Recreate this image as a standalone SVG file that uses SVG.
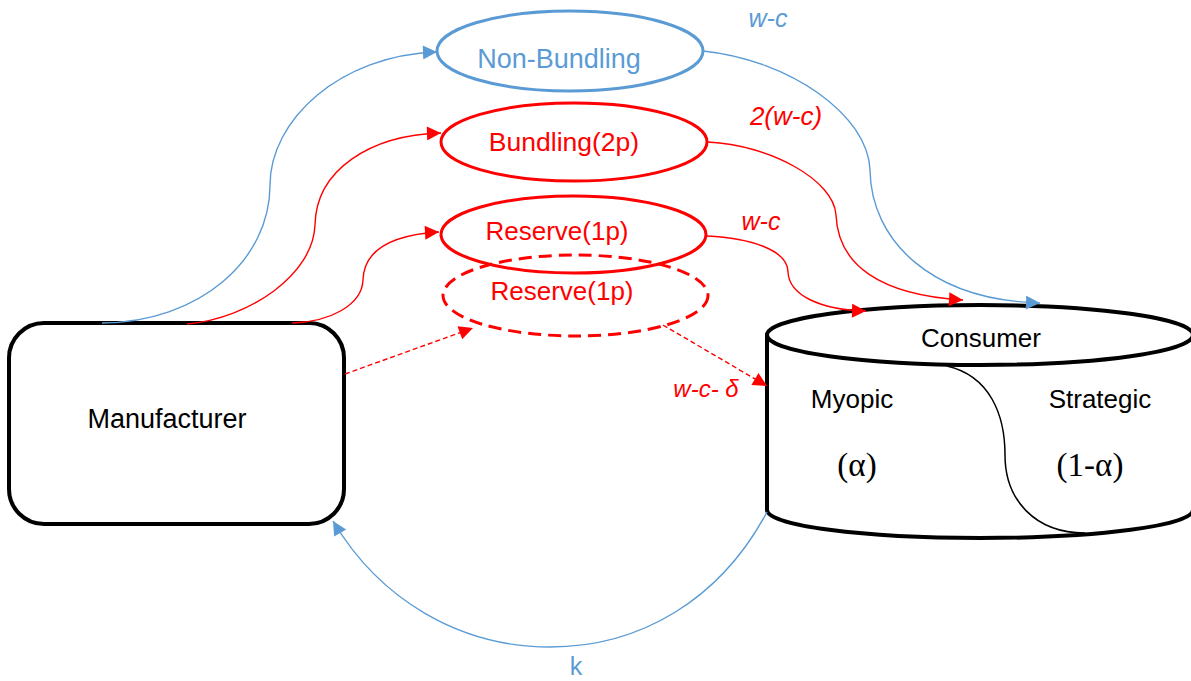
<svg xmlns="http://www.w3.org/2000/svg" width="1191" height="681" viewBox="0 0 1191 681">
  <style>
    .sans { font-family: "Liberation Sans", Arial, sans-serif; }
    .serif { font-family: "Liberation Serif", "Times New Roman", serif; }
    .blk { fill: #000; }
    .red { fill: #FF0000; }
    .blu { fill: #5B9BD5; }
    .box { fill: #fff; stroke: #000; stroke-width: 4; }
    .ell-b { fill: none; stroke: #5B9BD5; stroke-width: 3; }
    .ell-r { fill: none; stroke: #FF0000; stroke-width: 3; }
    .ell-rd { fill: none; stroke: #FF0000; stroke-width: 3; stroke-dasharray: 13 7; }
    .ln-b { fill: none; stroke: #5B9BD5; stroke-width: 1.4; }
    .ln-r { fill: none; stroke: #FF0000; stroke-width: 1.4; }
    .ln-rd { fill: none; stroke: #FF0000; stroke-width: 1.4; stroke-dasharray: 5 3; }
  </style>
  <defs>
    <marker id="arrow-blue" viewBox="0 0 10 10" refX="10" refY="5" markerWidth="17" markerHeight="14" markerUnits="userSpaceOnUse" orient="auto">
      <path d="M0,0 L10,5 L0,10 z" fill="#5B9BD5"/>
    </marker>
    <marker id="arrow-red" viewBox="0 0 10 10" refX="10" refY="5" markerWidth="17" markerHeight="14" markerUnits="userSpaceOnUse" orient="auto">
      <path d="M0,0 L10,5 L0,10 z" fill="#FF0000"/>
    </marker>
  </defs>

  <!-- Manufacturer -->
  <g id="manufacturer">
    <rect class="box" x="9" y="323" width="335" height="201" rx="35" ry="35"/>
    <text class="sans blk" x="167" y="428" font-size="27" text-anchor="middle">Manufacturer</text>
  </g>

  <!-- Consumer cylinder -->
  <g id="consumer">
    <path class="box" d="M767,335 L767,510 A213,28 0 0 0 1193,510 L1193,335 Z"/>
    <ellipse class="box" cx="980" cy="335" rx="213" ry="30"/>
    <path d="M947,366 C990,376 1005,415 1005,455 C1005,500 1035,533 1085,533" fill="none" stroke="#000" stroke-width="1.5"/>
    <text class="sans blk" x="981" y="347" font-size="26" text-anchor="middle">Consumer</text>
    <text class="sans blk" x="852" y="408" font-size="26" text-anchor="middle">Myopic</text>
    <text class="sans blk" x="1100" y="408" font-size="26" text-anchor="middle">Strategic</text>
    <text class="serif blk" x="857" y="476" font-size="33" text-anchor="middle">(α)</text>
    <text class="serif blk" x="1090" y="476" font-size="33" text-anchor="middle">(1-α)</text>
  </g>

  <!-- Pricing options -->
  <g id="non-bundling">
    <ellipse class="ell-b" cx="570" cy="51" rx="133" ry="40"/>
    <text class="sans blu" x="559" y="68" font-size="27" text-anchor="middle">Non-Bundling</text>
  </g>
  <g id="bundling">
    <ellipse class="ell-r" cx="574" cy="142" rx="133" ry="39"/>
    <text class="sans red" x="564" y="151" font-size="26.5" text-anchor="middle">Bundling(2p)</text>
  </g>
  <g id="reserve">
    <ellipse class="ell-r" cx="573.5" cy="234.5" rx="132.5" ry="38.5"/>
    <text class="sans red" x="557" y="240" font-size="26" text-anchor="middle">Reserve(1p)</text>
  </g>
  <g id="reserve-alt">
    <ellipse class="ell-rd" cx="575.5" cy="295.5" rx="132.5" ry="40.5"/>
    <text class="sans red" x="562" y="300" font-size="26" text-anchor="middle">Reserve(1p)</text>
  </g>

  <!-- Connectors -->
  <g id="connectors">
    <path class="ln-b" d="M102,323 C200,322 270,260 270,185 C270,120 340,55 437,52" marker-end="url(#arrow-blue)"/>
    <path class="ln-r" d="M187,324 C250,318 313,275 315,225 C316,170 370,135 441,133" marker-end="url(#arrow-red)"/>
    <path class="ln-r" d="M292,323 C330,322 362,305 363,280 C364,250 390,235 439,232" marker-end="url(#arrow-red)"/>
    <path class="ln-rd" d="M345,374 L473,328" marker-end="url(#arrow-red)"/>

    <path class="ln-b" d="M703,51 C790,60 868,115 870,170 C871,240 930,300 1040,303" marker-end="url(#arrow-blue)"/>
    <path class="ln-r" d="M708,142 C770,145 834,180 836,215 C838,265 880,295 963,300" marker-end="url(#arrow-red)"/>
    <path class="ln-r" d="M707,236 C750,238 788,250 788,272 C789,295 820,310 866,311" marker-end="url(#arrow-red)"/>
    <path class="ln-rd" d="M663,325 L767,386" marker-end="url(#arrow-red)"/>

    <path class="ln-b" d="M767,512 C720,600 640,647 550,647 C460,647 380,600 333,521" marker-end="url(#arrow-blue)"/>

    <text class="sans blu" x="768" y="27" font-size="25" font-style="italic" text-anchor="middle">w-c</text>
    <text class="sans red" x="786" y="125" font-size="26" font-style="italic" text-anchor="middle">2(w-c)</text>
    <text class="sans red" x="761" y="230" font-size="25" font-style="italic" text-anchor="middle">w-c</text>
    <text class="sans red" x="706" y="397" font-size="24" font-style="italic" text-anchor="middle">w-c- δ</text>
    <text class="sans blu" x="576" y="675" font-size="25" text-anchor="middle">k</text>
  </g>
</svg>
